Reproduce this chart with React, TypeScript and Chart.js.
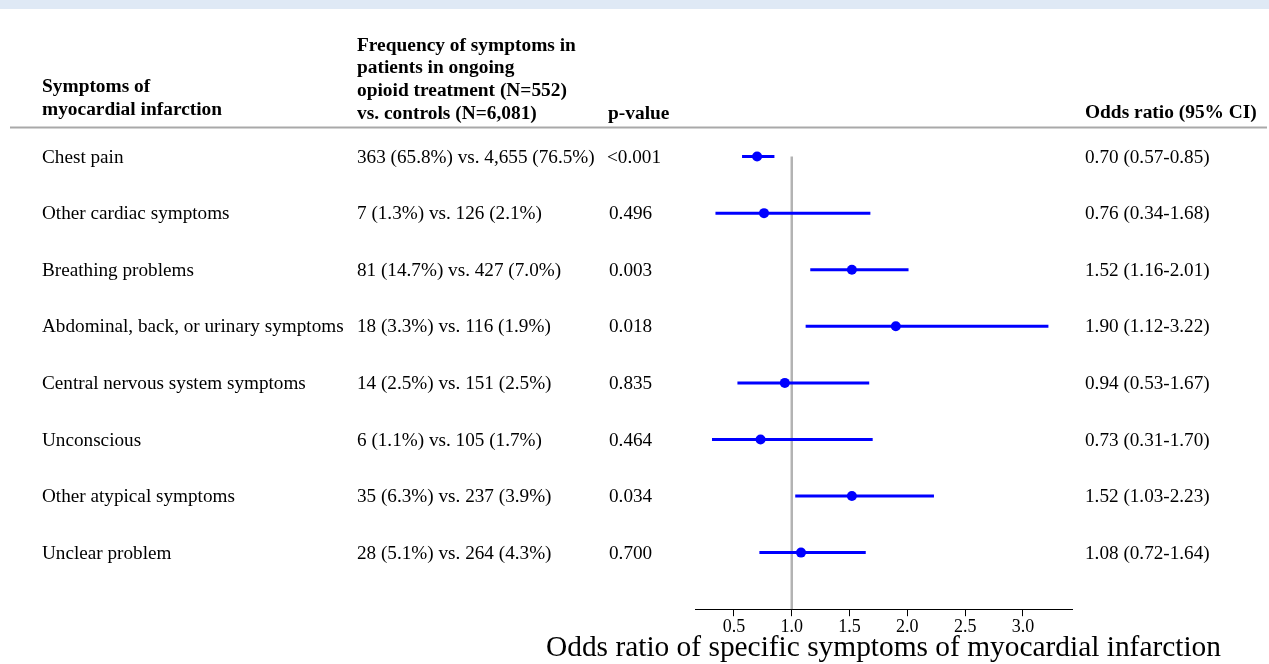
import React, { useEffect, useRef } from "react";
import { Chart, registerables } from "chart.js";

Chart.register(...registerables);

const symptoms = [
  "Chest pain",
  "Other cardiac symptoms",
  "Breathing problems",
  "Abdominal, back, or urinary symptoms",
  "Central nervous system symptoms",
  "Unconscious",
  "Other atypical symptoms",
  "Unclear problem",
];
const frequencies = [
  "363 (65.8%) vs. 4,655 (76.5%)",
  "7 (1.3%) vs. 126 (2.1%)",
  "81 (14.7%) vs. 427 (7.0%)",
  "18 (3.3%) vs. 116 (1.9%)",
  "14 (2.5%) vs. 151 (2.5%)",
  "6 (1.1%) vs. 105 (1.7%)",
  "35 (6.3%) vs. 237 (3.9%)",
  "28 (5.1%) vs. 264 (4.3%)",
];
const pValues = ["<0.001", "0.496", "0.003", "0.018", "0.835", "0.464", "0.034", "0.700"];
const oddsRatios = [0.7, 0.76, 1.52, 1.9, 0.94, 0.73, 1.52, 1.08];
const ciLower = [0.57, 0.34, 1.16, 1.12, 0.53, 0.31, 1.03, 0.72];
const ciUpper = [0.85, 1.68, 2.01, 3.22, 1.67, 1.7, 2.23, 1.64];
const xTicks = [0.5, 1.0, 1.5, 2.0, 2.5, 3.0];

const headerSymptoms = ["Symptoms of", "myocardial infarction"];
const headerFrequency = [
  "Frequency of symptoms in",
  "patients in ongoing",
  "opioid treatment (N=552)",
  "vs. controls (N=6,081)",
];
const headerP = "p-value";
const headerOR = "Odds ratio (95% CI)";
const axisTitle = "Odds ratio of specific symptoms of myocardial infarction";

const FONT = "'Liberation Serif', 'Times New Roman', serif";

const tablePlugin = {
  id: "tablePlugin",
  beforeDraw(chart: any) {
    const ctx = chart.ctx;
    ctx.save();
    ctx.fillStyle = "#dfe9f5";
    ctx.fillRect(0, 0, chart.width, 9);
    ctx.restore();
  },
  afterDraw(chart: any) {
    const ctx = chart.ctx;
    const yScale = chart.scales.y;
    const area = chart.chartArea;
    ctx.save();
    ctx.fillStyle = "#000";
    ctx.textBaseline = "middle";
    ctx.textAlign = "left";
    ctx.font = `bold 19.4px ${FONT}`;
    headerSymptoms.forEach((t, i) => ctx.fillText(t, 42, 86.5 + i * 23));
    headerFrequency.forEach((t, i) => ctx.fillText(t, 357, 45.5 + i * 22.7));
    ctx.fillText(headerP, 608, 114);
    ctx.fillText(headerOR, 1085, 112.5);

    ctx.strokeStyle = "#a9a9a9";
    ctx.lineWidth = 2;
    ctx.beginPath();
    ctx.moveTo(10, 127.5);
    ctx.lineTo(1267, 127.5);
    ctx.stroke();

    ctx.font = `19.2px ${FONT}`;
    symptoms.forEach((s, i) => {
      const y = yScale.getPixelForValue(i) + 1;
      ctx.fillText(s, 42, y);
      ctx.fillText(frequencies[i], 357, y);
      ctx.fillText(pValues[i], i === 0 ? 607 : 609, y);
      ctx.fillText(
        `${oddsRatios[i].toFixed(2)} (${ciLower[i].toFixed(2)}-${ciUpper[i].toFixed(2)})`,
        1085,
        y
      );
    });

    ctx.font = `29.4px ${FONT}`;
    ctx.textAlign = "center";
    ctx.fillText(axisTitle, (area.left + area.right) / 2, 648);
    ctx.restore();
  },
};

export default function App() {
  const ref = useRef<HTMLCanvasElement | null>(null);
  useEffect(() => {
    document.body.style.margin = "0";
    document.body.style.overflow = "hidden";
    if (!ref.current) return;
    const ciSets = symptoms.map((_, i) => ({
      type: "scatter" as const,
      data: [
        { x: ciLower[i], y: i },
        { x: ciUpper[i], y: i },
      ],
      showLine: true,
      borderColor: "#0000ff",
      borderWidth: 3,
      pointRadius: 0,
      order: 5,
    }));
    const chart = new Chart(ref.current, {
      type: "scatter",
      data: {
        datasets: [
          {
            data: oddsRatios.map((v, i) => ({ x: v, y: i })),
            backgroundColor: "#0000ff",
            borderWidth: 0,
            pointRadius: 5,
            order: 1,
          },
          ...ciSets,
          {
            data: [
              { x: 1, y: 0 },
              { x: 1, y: 8 },
            ],
            showLine: true,
            borderColor: "#b3b3b3",
            borderWidth: 2.5,
            pointRadius: 0,
            order: 10,
          },
        ],
      },
      options: {
        animation: false,
        responsive: true,
        maintainAspectRatio: false,
        layout: { padding: { left: 695, right: 197, top: 100, bottom: 26 } },
        plugins: { legend: { display: false }, tooltip: { enabled: false } },
        scales: {
          x: {
            type: "linear",
            min: 0.163,
            max: 3.424,
            afterBuildTicks: (axis: any) => {
              axis.ticks = xTicks.map((v) => ({ value: v }));
            },
            grid: {
              display: true,
              drawOnChartArea: false,
              drawTicks: true,
              tickLength: 7,
              tickColor: "#000",
              tickWidth: 1,
            },
            border: { display: true, color: "#000", width: 1 },
            ticks: {
              color: "#000",
              padding: 1,
              font: { family: FONT, size: 18, lineHeight: 1.1 },
              callback: (v: any) => Number(v).toFixed(1),
              maxRotation: 0,
              autoSkip: false,
            },
            title: { display: false },
          },
          y: {
            type: "linear",
            display: false,
            reverse: true,
            min: -1,
            max: 8,
          },
        },
      },
      plugins: [tablePlugin],
    } as any);
    return () => chart.destroy();
  }, []);
  return (
    <div style={{ position: "absolute", left: 0, top: 0, width: 1269, height: 664, background: "#fff" }}>
      <canvas ref={ref} />
    </div>
  );
}
